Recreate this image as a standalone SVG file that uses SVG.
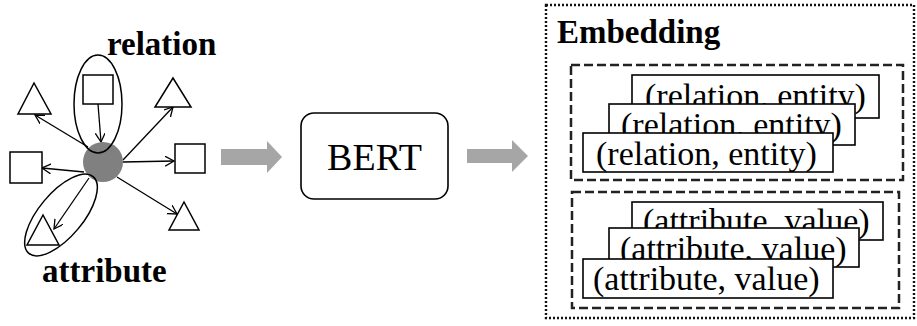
<svg xmlns="http://www.w3.org/2000/svg" width="917" height="326" viewBox="0 0 917 326">
  <style>
    .shape { fill: #fff; stroke: #000; stroke-width: 1.5; }
    .edge { fill: none; stroke: #000; stroke-width: 1.3; marker-end: url(#head); }
    .ring { fill: none; stroke: #000; stroke-width: 1.5; }
    .serif { font-family: "Liberation Serif", "Tinos", "Times New Roman", "DejaVu Serif", serif; }
    .label { font-weight: bold; font-size: 33px; fill: #000; }
    .pair { font-size: 34px; fill: #000; }
    .card { fill: #fff; stroke: #000; stroke-width: 1.6; }
    .block { fill: #a6a6a6; }
    .group { fill: none; stroke: #222; stroke-width: 2.5; stroke-dasharray: 9 4; }
  </style>
  <defs>
    <marker id="head" markerUnits="userSpaceOnUse" markerWidth="12" markerHeight="12" refX="9" refY="5" orient="auto">
      <path d="M0,0 L9,5 L0,10" fill="none" stroke="#000" stroke-width="1.3"/>
    </marker>
  </defs>

  <!-- knowledge graph neighbourhood -->
  <g id="graph">
    <g id="connectors">
      <line class="edge" x1="98" y1="104" x2="101" y2="142"/>
      <line class="edge" x1="88" y1="147" x2="35" y2="115"/>
      <line class="edge" x1="123" y1="160" x2="173" y2="107"/>
      <line class="edge" x1="123" y1="162" x2="174" y2="161"/>
      <line class="edge" x1="84" y1="172" x2="42" y2="168"/>
      <line class="edge" x1="117" y1="177" x2="177" y2="214"/>
      <line class="edge" x1="89" y1="178" x2="54" y2="229"/>
    </g>
    <g id="center"><circle cx="103" cy="162" r="20" fill="#808080"/></g>
    <g id="sq-top"><rect class="shape" x="83" y="75" width="30" height="29"/></g>
    <g id="sq-left"><rect class="shape" x="10" y="152" width="32" height="31"/></g>
    <g id="sq-right"><rect class="shape" x="175" y="144" width="30" height="29"/></g>
    <g id="tri-tl"><polygon class="shape" points="34,83 18,114 51,114"/></g>
    <g id="tri-tr"><polygon class="shape" points="173,78 155,107 191,107"/></g>
    <g id="tri-br"><polygon class="shape" points="184,202 169,230 199,230"/></g>
    <g id="tri-bl"><polygon class="shape" points="43,215 27,245 59,245"/></g>
    <g id="relation">
      <ellipse class="ring" cx="98" cy="104" rx="24" ry="49"/>
      <text class="serif label" x="107" y="55">relation</text>
    </g>
    <g id="attribute">
      <ellipse class="ring" cx="61" cy="215" rx="22" ry="50" transform="rotate(40 61 215)"/>
      <text class="serif label" x="42" y="282">attribute</text>
    </g>
  </g>

  <!-- flow arrows -->
  <g id="flow">
    <polygon class="block" points="221,149 267,149 267,141 282,157 267,173 267,165 221,165"/>
    <polygon class="block" points="467,149 512,149 512,140 528,156 512,172 512,163 467,163"/>
  </g>

  <g id="bert">
    <rect x="301" y="113" width="147" height="86" rx="13" fill="#fff" stroke="#000" stroke-width="1.6"/>
    <text class="serif" x="374.5" y="170" text-anchor="middle" font-size="38">BERT</text>
  </g>

  <!-- embedding output -->
  <g id="embedding">
    <rect x="546" y="5" width="368" height="313" fill="none" stroke="#111" stroke-width="2.4" stroke-dasharray="2 2"/>
    <text class="serif label" x="557" y="43">Embedding</text>

    <g id="relation-pairs">
      <rect class="group" x="571" y="65" width="332" height="115"/>
      <rect class="card" x="632" y="75" width="247" height="43"/>
      <text class="serif pair" x="645" y="107">(relation, entity)</text>
      <rect class="card" x="609" y="104" width="246" height="41"/>
      <text class="serif pair" x="621" y="136">(relation, entity)</text>
      <rect class="card" x="583" y="133" width="250" height="39"/>
      <text class="serif pair" x="596" y="165">(relation, entity)</text>
    </g>

    <g id="attribute-pairs">
      <rect class="group" x="572" y="192" width="327" height="116"/>
      <rect class="card" x="632" y="202" width="251" height="38"/>
      <text class="serif pair" x="643" y="232">(attribute, value)</text>
      <rect class="card" x="609" y="228" width="250" height="39"/>
      <text class="serif pair" x="620" y="260">(attribute, value)</text>
      <rect class="card" x="583" y="259" width="250" height="39"/>
      <text class="serif pair" x="593" y="290">(attribute, value)</text>
    </g>
  </g>
</svg>
